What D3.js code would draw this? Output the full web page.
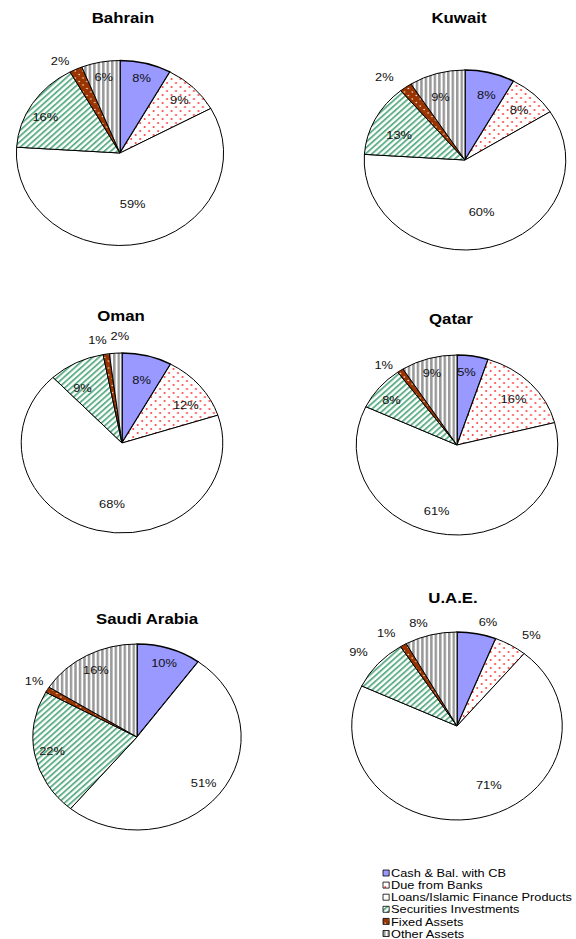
<!DOCTYPE html>
<html>
<head>
<meta charset="utf-8">
<script src="https://cdn.jsdelivr.net/npm/d3@7"></script>
<style>
  body { margin: 0; background: #fff; }
  text { font-family: "Liberation Sans", Arial, sans-serif; }
</style>
</head>
<body>
<div id="chart"></div>
<script>
// asset mix by country, shares in % (clockwise from 12 o'clock)
var categories = ["Cash & Bal. with CB", "Due from Banks", "Loans/Islamic Finance Products",
                  "Securities Investments", "Fixed Assets", "Other Assets"]
var countries = ["Bahrain", "Kuwait", "Oman", "Qatar", "Saudi Arabia", "U.A.E."]

var bahrain = [8, 9, 59, 16, 2, 6]
var kuwait  = [8, 8, 60, 13, 2, 9]
var oman    = [8, 12, 68, 9, 1, 2]
var qatar   = [5, 16, 61, 8, 1, 9]
var saudi   = [10, 0, 51, 22, 1, 16]
var uae     = [6, 5, 71, 9, 1, 8]
var shares = [bahrain, kuwait, oman, qatar, saudi, uae]

// layout: the source picture is stretched sideways, so everything is drawn in a squeezed frame
// lr = label distance (x radius), da = label angle nudge in degrees
var W = 576, H = 939, SX = 1.12
var layout = [
  {cx: 120, cy: 153, r: 92.5, tx: 123, ty: 23,  lr: [0.84, 0.81, 0.56, 0.82, 1.15, 0.84], da: [0, 0, 0, -4, -5, 0]},
  {cx: 465, cy: 160, r: 90,   tx: 459, ty: 23,  lr: [0.75, 0.77, 0.60, 0.71, 1.22, 0.74], da: [2, 1, -1.5, -4, -5, -3]},
  {cx: 122, cy: 443, r: 90,   tx: 121, ty: 321, lr: [0.73, 0.76, 0.68, 0.73, 1.17, 1.19], da: [1, 6, -6, -5.5, -3, 2.6]},
  {cx: 457, cy: 445, r: 90,   tx: 451, ty: 324, lr: [0.82, 0.76, 0.76, 0.82, 1.15, 0.84], da: [-2.4, 0.7, 10, -2, -5, -1]},
  {cx: 137, cy: 737, r: 93,   tx: 147, ty: 624, lr: [0.84, 0.80, 0.81, 0.83, 1.16, 0.82], da: [0, 0, 0, 0, 1, 0]},
  {cx: 457, cy: 726, r: 94,   tx: 453, ty: 603, lr: [1.15, 1.2, 0.7, 1.22, 1.2, 1.16],    da: [4, 5.5, -13, -1.5, -3.5, -4]}
]
var fills = ["#9999FF", "url(#dots)", "#FFFFFF", "url(#diag)", "url(#brown)", "url(#vstripe)"]

var svg = d3.select("#chart").append("svg")
  .attr("width", W).attr("height", H)
  .style("display", "block")
svg.append("rect").attr("width", W).attr("height", H).attr("fill", "#fff")

var defs = svg.append("defs")

var p = defs.append("pattern").attr("id", "dots").attr("patternUnits", "userSpaceOnUse")
  .attr("width", 8).attr("height", 8)
p.append("rect").attr("width", 8).attr("height", 8).attr("fill", "#fff")
p.append("circle").attr("cx", 2).attr("cy", 2).attr("r", 0.9).attr("fill", "#ff3a3a")
p.append("circle").attr("cx", 6).attr("cy", 6).attr("r", 0.9).attr("fill", "#ff3a3a")

p = defs.append("pattern").attr("id", "diag").attr("patternUnits", "userSpaceOnUse")
  .attr("width", 4).attr("height", 4).attr("patternTransform", "rotate(45)")
p.append("rect").attr("width", 4).attr("height", 4).attr("fill", "#fff")
p.append("rect").attr("width", 1.8).attr("height", 4).attr("fill", "#62b08a")

p = defs.append("pattern").attr("id", "brown").attr("patternUnits", "userSpaceOnUse")
  .attr("width", 7).attr("height", 7)
p.append("rect").attr("width", 7).attr("height", 7).attr("fill", "#993300")
p.append("circle").attr("cx", 2).attr("cy", 2).attr("r", 0.8).attr("fill", "#f4e0d0")
p.append("circle").attr("cx", 5.5).attr("cy", 5.5).attr("r", 0.8).attr("fill", "#f4e0d0")

p = defs.append("pattern").attr("id", "vstripe").attr("patternUnits", "userSpaceOnUse")
  .attr("width", 4).attr("height", 4)
p.append("rect").attr("width", 4).attr("height", 4).attr("fill", "#fff")
p.append("rect").attr("width", 2.2).attr("height", 4).attr("fill", "#999")

var root = svg.append("g").attr("transform", "scale(" + SX + ",1)")

var pie = d3.pie().sort(null).value(d => d)

shares.forEach(function(vals, i) {
  var L = layout[i]
  var arc = d3.arc().innerRadius(0).outerRadius(L.r)

  root.append("text")
    .attr("x", L.tx / SX).attr("y", L.ty)
    .attr("text-anchor", "middle")
    .style("font-size", "15px").style("font-weight", "bold")
    .text(countries[i])

  var g = root.append("g").attr("transform", "translate(" + (L.cx / SX) + "," + L.cy + ")")
  var arcs = pie(vals)

  g.selectAll("path").data(arcs).enter().append("path")
    .attr("d", arc)
    .attr("fill", (d, j) => fills[j])
    .attr("stroke", "#000")
    .attr("stroke-width", (d, j) => j == 0 ? 1.5 : 1)
    .attr("stroke-linejoin", "round")
    .attr("vector-effect", "non-scaling-stroke")

  var ang = d => (d.startAngle + d.endAngle) / 2 + L.da[d.index] * Math.PI / 180
  g.selectAll("text.lbl").data(arcs.filter(d => d.value > 0)).enter().append("text")
    .attr("class", "lbl")
    .attr("x", d => Math.sin(ang(d)) * L.r * L.lr[d.index])
    .attr("y", d => -Math.cos(ang(d)) * L.r * L.lr[d.index])
    .attr("dy", "0.35em")
    .attr("text-anchor", "middle")
    .style("font-size", "11.5px")
    .attr("fill", "#111")
    .text(d => d.value + "%")
})

// legend
var leg = root.append("g").attr("transform", "translate(" + (383 / SX) + ",873)")
var row = leg.selectAll("g").data(categories).enter().append("g")
  .attr("transform", (d, j) => "translate(0," + (j * 12.1) + ")")
row.append("rect")
  .attr("x", 0).attr("y", -3).attr("width", 5.5).attr("height", 6)
  .attr("fill", (d, j) => fills[j])
  .attr("stroke", "#000").attr("stroke-width", 0.8)
  .attr("vector-effect", "non-scaling-stroke")
row.append("text")
  .attr("x", 7.2).attr("dy", "0.36em")
  .style("font-size", "11.4px")
  .text(d => d)
</script>
</body>
</html>
